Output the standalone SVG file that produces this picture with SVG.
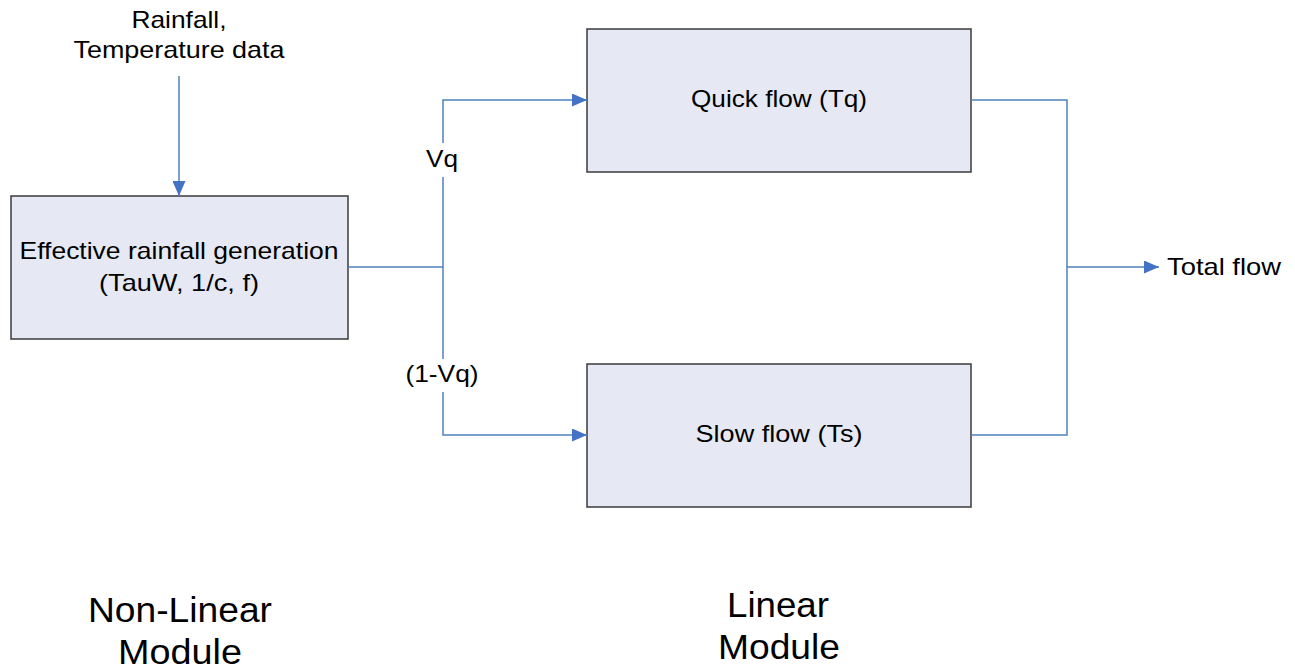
<svg xmlns="http://www.w3.org/2000/svg" width="1295" height="671" viewBox="0 0 1295 671">
  <style>
    .box { fill: #e6e9f4; stroke: #3a3a3a; stroke-width: 1.5; }
    .wire { fill: none; stroke: #4f81bd; stroke-width: 1.5; }
    .lbl { font-family: "Liberation Sans", Arial, sans-serif; font-size: 24px; fill: #000; text-anchor: middle; }
    .big { font-family: "Liberation Sans", Arial, sans-serif; font-size: 35px; fill: #000; text-anchor: middle; }
  </style>
  <defs>
    <marker id="arrow" viewBox="0 0 15 13" refX="15" refY="6.5" markerWidth="15" markerHeight="13" markerUnits="userSpaceOnUse" orient="auto">
      <path d="M0,0 L15,6.5 L0,13 Z" fill="#4472c4"/>
    </marker>
  </defs>

  <!-- input label -->
  <g id="input">
    <text class="lbl" x="179" y="28" textLength="95" lengthAdjust="spacingAndGlyphs">Rainfall,</text>
    <text class="lbl" x="179" y="58" textLength="211" lengthAdjust="spacingAndGlyphs">Temperature data</text>
  </g>

  <!-- non-linear stage -->
  <g id="effective-rainfall">
    <rect class="box" x="11" y="196" width="337" height="143"/>
    <text class="lbl" x="179" y="259" textLength="319" lengthAdjust="spacingAndGlyphs">Effective rainfall generation</text>
    <text class="lbl" x="179" y="291" textLength="160" lengthAdjust="spacingAndGlyphs">(TauW, 1/c, f)</text>
  </g>

  <!-- linear stores -->
  <g id="quick-flow">
    <rect class="box" x="587" y="29" width="384" height="143"/>
    <text class="lbl" x="779" y="107" textLength="176" lengthAdjust="spacingAndGlyphs">Quick flow (Tq)</text>
  </g>
  <g id="slow-flow">
    <rect class="box" x="587" y="364" width="384" height="143"/>
    <text class="lbl" x="779" y="442" textLength="167" lengthAdjust="spacingAndGlyphs">Slow flow (Ts)</text>
  </g>

  <!-- output -->
  <g id="total-flow">
    <text class="lbl" x="1167" y="275" style="text-anchor:start" textLength="114" lengthAdjust="spacingAndGlyphs">Total flow</text>
  </g>

  <!-- connectors -->
  <g id="connectors">
    <line class="wire" x1="179" y1="76" x2="179" y2="196" marker-end="url(#arrow)"/>
    <polyline class="wire" points="348,267 443,267"/>
    <polyline class="wire" points="443,143 443,100 587,100" marker-end="url(#arrow)"/>
    <line class="wire" x1="443" y1="177" x2="443" y2="359"/>
    <polyline class="wire" points="443,392 443,435 587,435" marker-end="url(#arrow)"/>
    <polyline class="wire" points="971,100 1067,100 1067,435 971,435"/>
    <line class="wire" x1="1067" y1="267" x2="1159" y2="267" marker-end="url(#arrow)"/>
    <text class="lbl" x="442" y="167" textLength="32" lengthAdjust="spacingAndGlyphs">Vq</text>
    <text class="lbl" x="442" y="382" textLength="73" lengthAdjust="spacingAndGlyphs">(1-Vq)</text>
  </g>

  <!-- module captions -->
  <g id="captions">
    <text class="big" x="180" y="622" textLength="184" lengthAdjust="spacingAndGlyphs">Non-Linear</text>
    <text class="big" x="180" y="664" textLength="124" lengthAdjust="spacingAndGlyphs">Module</text>
    <text class="big" x="778" y="617" textLength="102" lengthAdjust="spacingAndGlyphs">Linear</text>
    <text class="big" x="779" y="659" textLength="122" lengthAdjust="spacingAndGlyphs">Module</text>
  </g>
</svg>
